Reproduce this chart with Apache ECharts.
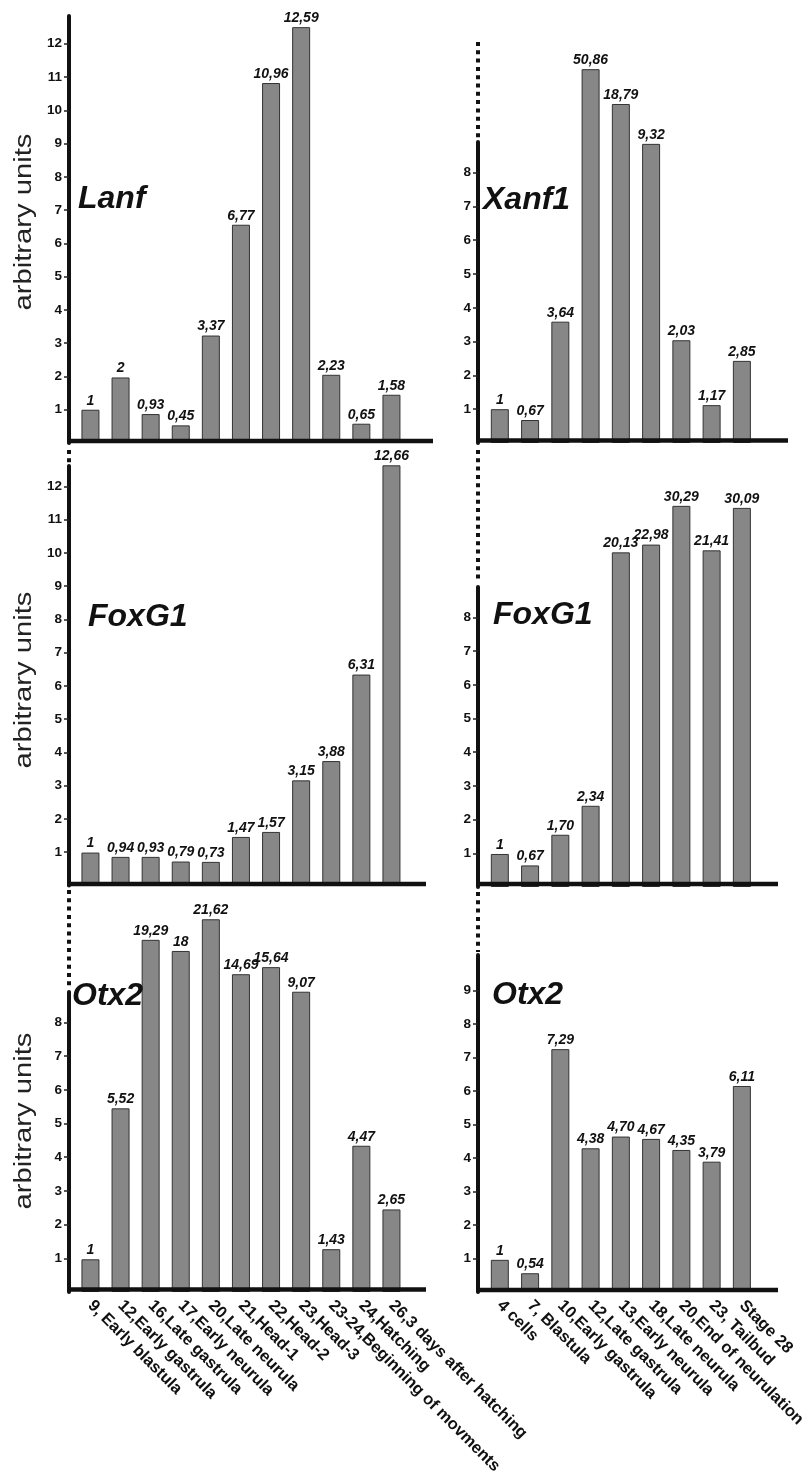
<!DOCTYPE html>
<html><head><meta charset="utf-8">
<script src="https://cdn.jsdelivr.net/npm/echarts@6/dist/echarts.min.js"></script>
<style>html,body{margin:0;padding:0;background:#fff}#c{width:803px;height:1475px}</style>
</head><body><div id="c"></div>
<script>
const FONT = '"Liberation Sans", Arial, Helvetica, sans-serif';

// Categories
const leftStages = ['9, Early blastula', '12,Early gastrula', '16,Late gastrula', '17,Early neurula', '20,Late neurula', '21,Head-1', '22,Head-2', '23,Head-3', '23-24,Beginning of movments', '24,Hatching', '26,3 days after hatching'];
const rightStages = ['4 cells', '7, Blastula', '10,Early gastrula', '12,Late gastrula', '13,Early neurula', '18,Late neurula', '20,End of neurulation', '23, Tailbud', 'Stage 28'];

// Drawn bar heights (in axis units) and printed values
const lanfHeights = [1.0, 1.97, 0.87, 0.53, 3.23, 6.56, 10.82, 12.5, 2.05, 0.58, 1.45];
const lanfLabels = ['1', '2', '0,93', '0,45', '3,37', '6,77', '10,96', '12,59', '2,23', '0,65', '1,58'];
const xanf1Heights = [1.0, 0.68, 3.59, 11.06, 10.03, 8.85, 3.04, 1.12, 2.43];
const xanf1Labels = ['1', '0,67', '3,64', '50,86', '18,79', '9,32', '2,03', '1,17', '2,85'];
const foxg1LeftHeights = [0.99, 0.86, 0.86, 0.72, 0.71, 1.46, 1.61, 3.16, 3.74, 6.34, 12.63];
const foxg1LeftLabels = ['1', '0,94', '0,93', '0,79', '0,73', '1,47', '1,57', '3,15', '3,88', '6,31', '12,66'];
const foxg1RightHeights = [0.98, 0.64, 1.55, 2.41, 9.93, 10.16, 11.31, 9.99, 11.25];
const foxg1RightLabels = ['1', '0,67', '1,70', '2,34', '20,13', '22,98', '30,29', '21,41', '30,09'];
const otx2LeftHeights = [0.97, 5.45, 10.45, 10.12, 11.06, 9.43, 9.64, 8.91, 1.27, 4.34, 2.45];
const otx2LeftLabels = ['1', '5,52', '19,29', '18', '21,62', '14,69', '15,64', '9,07', '1,43', '4,47', '2,65'];
const otx2RightHeights = [0.96, 0.56, 7.25, 4.29, 4.64, 4.57, 4.24, 3.89, 6.15];
const otx2RightLabels = ['1', '0,54', '7,29', '4,38', '4,70', '4,67', '4,35', '3,79', '6,11'];

// Tick labels
const ticks12 = [1, 2, 3, 4, 5, 6, 7, 8, 9, 10, 11, 12];
const ticks8 = [1, 2, 3, 4, 5, 6, 7, 8];
const ticks9 = [1, 2, 3, 4, 5, 6, 7, 8, 9];

const yTitle = 'arbitrary units';

// Layout (positions only)
const cols = [
  { axisX: 69, gridLeft: 75.4, gridWidth: 331.1 },
  { axisX: 478, gridLeft: 484.7, gridWidth: 272.3 }
];
const panels = [
  { gene: 'Lanf', cats: leftStages, h: lanfHeights, lab: lanfLabels, ticks: ticks12, col: 0, top: 16, zero: 443, unit: 33.27, base: 441, baseEnd: 433, dots: null, title: [78, 183], showCats: false },
  { gene: 'Xanf1', cats: rightStages, h: xanf1Heights, lab: xanf1Labels, ticks: ticks8, col: 1, top: 142, zero: 443, unit: 33.8, base: 440.5, baseEnd: 788, dots: [42, 139], title: [483, 184], showCats: false },
  { gene: 'FoxG1', cats: leftStages, h: foxg1LeftHeights, lab: foxg1LeftLabels, ticks: ticks12, col: 0, top: 466, zero: 885.5, unit: 33.27, base: 884, baseEnd: 426, dots: [450, 463], title: [88, 601], showCats: false },
  { gene: 'FoxG1', cats: rightStages, h: foxg1RightHeights, lab: foxg1RightLabels, ticks: ticks8, col: 1, top: 587, zero: 887, unit: 33.7, base: 884, baseEnd: 778, dots: [450, 582], title: [493, 599], showCats: false },
  { gene: 'Otx2', cats: leftStages, h: otx2LeftHeights, lab: otx2LeftLabels, ticks: ticks8, col: 0, top: 992, zero: 1292, unit: 33.7, base: 1289.5, baseEnd: 426, dots: [890, 988], title: [72, 980], showCats: true },
  { gene: 'Otx2', cats: rightStages, h: otx2RightHeights, lab: otx2RightLabels, ticks: ticks9, col: 1, top: 955, zero: 1292, unit: 33.5, base: 1290, baseEnd: 778, dots: [892, 952], title: [492, 979], showCats: true }
];
const yTitleCenters = [222, 680, 1121];

const grid = [], xAxis = [], yAxis = [], series = [], graphic = [], title = [];
panels.forEach((p, i) => {
  const c = cols[p.col];
  grid.push({ left: c.gridLeft, width: c.gridWidth, top: p.top, height: p.zero - p.top, outerBoundsMode: 'none', containLabel: false });
  xAxis.push({
    type: 'category', gridIndex: i, data: p.cats,
    axisLine: { show: false }, axisTick: { show: false }, splitLine: { show: false },
    axisLabel: { show: p.showCats, interval: 0, rotate: -45, margin: 11, fontWeight: 'bold', fontSize: 16.5, fontFamily: FONT, color: '#111' }
  });
  yAxis.push({
    type: 'value', gridIndex: i, min: 0, max: (p.zero - p.top) / p.unit, offset: c.gridLeft - c.axisX,
    axisLine: { show: true, onZero: false, lineStyle: { color: '#111', width: 4 } },
    axisTick: { show: true, length: 5, customValues: p.ticks, lineStyle: { color: '#222', width: 1.5 } },
    axisLabel: { show: true, customValues: p.ticks, margin: 7, fontWeight: 'bold', fontSize: 13.5, fontFamily: FONT, color: '#111' },
    splitLine: { show: false }
  });
  const labs = p.lab;
  series.push({
    type: 'bar', xAxisIndex: i, yAxisIndex: i, data: p.h, barWidth: 18, clip: false, animation: false,
    itemStyle: { color: '#878787', borderColor: '#333', borderWidth: 1 },
    label: { show: true, position: 'top', distance: 2, formatter: (q) => labs[q.dataIndex], fontFamily: FONT, fontWeight: 'bold', fontStyle: 'italic', fontSize: 14, color: '#111' }
  });
  graphic.push({ type: 'line', z: 100, shape: { x1: c.axisX - 2, y1: p.base, x2: p.baseEnd, y2: p.base }, style: { stroke: '#111', lineWidth: 4.5 } });
  if (p.dots) {
    graphic.push({ type: 'line', z: 100, shape: { x1: c.axisX, y1: p.dots[0], x2: c.axisX, y2: p.dots[1] }, style: { stroke: '#111', lineWidth: 4, lineDash: [4, 4.3] } });
  }
  title.push({ text: p.gene, left: p.title[0], top: p.title[1], padding: 0, textStyle: { fontSize: 32, fontWeight: 'bold', fontStyle: 'italic', fontFamily: FONT, color: '#111' } });
});
yTitleCenters.forEach(cy => {
  graphic.push({ type: 'text', x: 25, y: cy, rotation: Math.PI / 2, scaleX: 1.27, style: { text: yTitle, fontSize: 23, fontFamily: FONT, fill: '#222', align: 'center', verticalAlign: 'middle' } });
});

const chart = echarts.init(document.getElementById('c'), null, { renderer: 'canvas' });
chart.setOption({ animation: false, backgroundColor: '#fff', title, grid, xAxis, yAxis, series, graphic });
</script>
</body></html>
